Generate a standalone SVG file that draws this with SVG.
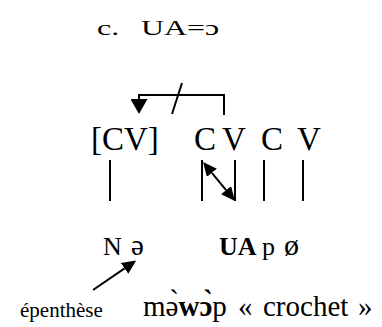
<svg xmlns="http://www.w3.org/2000/svg" width="382" height="327" viewBox="0 0 382 327" font-family="Liberation Serif, Times New Roman, DejaVu Serif, serif">
<style>
text{fill:#000}
.ln{stroke:#000;stroke-width:2;fill:none}
.b{font-weight:bold}
</style>
<defs>
<marker id="ah" viewBox="0 0 14 16" refX="0" refY="8" markerWidth="15" markerHeight="17" markerUnits="userSpaceOnUse" orient="auto-start-reverse">
<path d="M0,0 L14,8 L0,16 z" fill="#000"/>
</marker>
<marker id="ah2" viewBox="0 0 14 13" refX="0" refY="6.5" markerWidth="14" markerHeight="13" markerUnits="userSpaceOnUse" orient="auto-start-reverse">
<path d="M0,0 L14,6.5 L0,13 z" fill="#000"/>
</marker>
</defs>
<rect width="382" height="327" fill="#fff"/>
<g id="title">
<text transform="translate(97,35) scale(1.45,1)" font-size="22">c.</text>
<text transform="translate(141,35) scale(1.45,1)" font-size="22">UA=ɔ</text>
</g>
<g id="skeleton" font-size="33">
<text id="cv-bracket" x="91" y="150">[CV]</text>
<text id="c1" x="194" y="150">C</text>
<text id="v1" x="222" y="150">V</text>
<text id="c2" x="261" y="150">C</text>
<text id="v2" x="297" y="150">V</text>
</g>
<g id="melody" font-size="26">
<text id="n-schwa" y="255"><tspan x="103">N</tspan><tspan x="131" font-size="29">ə</tspan></text>
<text id="ua-p-o" y="255"><tspan x="219" class="b">UA</tspan><tspan x="262">p</tspan><tspan x="284" font-size="30">ø</tspan></text>
</g>
<g id="labels">
<text id="epenthese" x="20" y="317" font-size="21">épenthèse</text>
<text id="gloss" y="316" font-size="29"><tspan x="143">mə̀<tspan class="b">wɔ̀</tspan>p</tspan><tspan x="238">«</tspan><tspan x="263">crochet</tspan><tspan x="358">»</tspan></text>
</g>
<g id="connectors">
<path class="ln" stroke-width="2.5" d="M224,115 V95 H139 V99" marker-end="url(#ah)"/>
<line class="ln" x1="172" y1="114" x2="182" y2="83"/>
<line class="ln" x1="110" y1="160" x2="110" y2="201"/>
<line class="ln" x1="202" y1="160" x2="202" y2="201"/>
<line class="ln" x1="235" y1="160" x2="235" y2="201"/>
<line class="ln" x1="264" y1="160" x2="264" y2="201"/>
<line class="ln" x1="303" y1="160" x2="303" y2="201"/>
<line class="ln" x1="211.9" y1="172.8" x2="226.1" y2="190.2" marker-start="url(#ah2)" marker-end="url(#ah2)"/>
<line class="ln" x1="93" y1="290" x2="124.6" y2="268.4" marker-end="url(#ah2)"/>
</g>
</svg>
